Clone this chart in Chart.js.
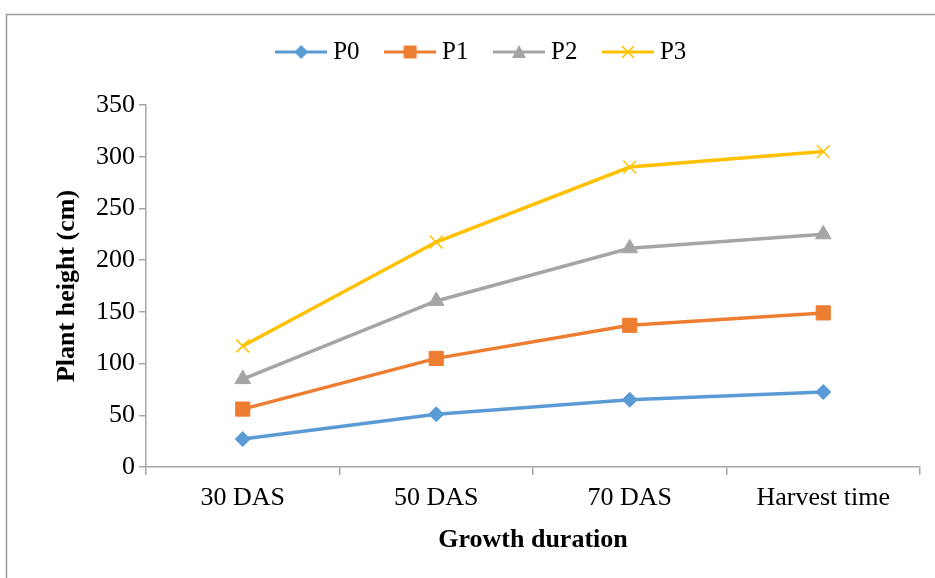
<!DOCTYPE html>
<html>
<head>
<meta charset="utf-8">
<script src="https://cdn.jsdelivr.net/npm/chart.js@4.4.0/dist/chart.umd.min.js"></script>
<style>
html,body{margin:0;padding:0;background:#fff;}
#wrap{position:relative;width:935px;height:578px;}
</style>
</head>
<body>
<div id="wrap"><canvas id="c" width="935" height="578"></canvas></div>
<script>
const categories = ['30 DAS', '50 DAS', '70 DAS', 'Harvest time'];
const seriesNames = ['P0', 'P1', 'P2', 'P3'];
const p0 = [27, 51, 65, 72.5];
const p1 = [56, 105, 137, 149];
const p2 = [85, 160.5, 211.5, 225];
const p3 = [117, 217.5, 290, 305];
const yTicks = [0, 50, 100, 150, 200, 250, 300, 350];

const colors = ['#5B9BD5', '#ED7D31', '#A5A5A5', '#FFC000'];
const styles = ['rectRot', 'rect', 'triangle', 'crossRot'];
const radii = [7.5, 10, 9, 9];
const serif = "'Liberation Serif', 'Times New Roman', serif";

function legendIcon(i) {
  const cv = document.createElement('canvas');
  cv.width = 52; cv.height = 22;
  const g = cv.getContext('2d');
  g.strokeStyle = colors[i]; g.lineWidth = 3;
  g.beginPath(); g.moveTo(0, 11); g.lineTo(52, 11); g.stroke();
  g.fillStyle = colors[i];
  const cx = 26, cy = 11;
  if (i === 0) {
    g.beginPath(); g.moveTo(cx, cy - 7); g.lineTo(cx + 7, cy); g.lineTo(cx, cy + 7); g.lineTo(cx - 7, cy); g.closePath(); g.fill();
  } else if (i === 1) {
    g.fillRect(cx - 6.5, cy - 6.5, 13, 13);
  } else if (i === 2) {
    g.beginPath(); g.moveTo(cx, cy - 7); g.lineTo(cx + 7, cy + 6); g.lineTo(cx - 7, cy + 6); g.closePath(); g.fill();
  } else {
    g.lineWidth = 1.5;
    g.beginPath(); g.moveTo(cx - 6, cy - 6); g.lineTo(cx + 6, cy + 6); g.moveTo(cx + 6, cy - 6); g.lineTo(cx - 6, cy + 6); g.stroke();
  }
  return cv;
}
const icons = [0, 1, 2, 3].map(legendIcon);

const frame = {
  id: 'frame',
  beforeDraw(chart) {
    const g = chart.ctx;
    g.save();
    g.strokeStyle = '#9a9a9a';
    g.lineWidth = 1.5;
    g.beginPath();
    g.moveTo(6.5, 578); g.lineTo(6.5, 14.5); g.lineTo(935, 14.5);
    g.stroke();
    g.restore();
  }
};

const legendFit = {
  id: 'legendFit',
  beforeInit(chart) {
    const orig = chart.legend.fit;
    chart.legend.fit = function () {
      orig.call(this);
      this.height = 96.5;
    };
  }
};

const datasets = [p0, p1, p2, p3].map((d, i) => ({
  label: seriesNames[i],
  data: d,
  borderColor: colors[i],
  backgroundColor: colors[i],
  borderWidth: 3.5,
  tension: 0,
  pointStyle: styles[i],
  pointRadius: radii[i],
  pointHoverRadius: radii[i],
  pointBackgroundColor: colors[i],
  pointBorderColor: colors[i],
  pointBorderWidth: i === 3 ? 1.5 : 1
}));

new Chart(document.getElementById('c'), {
  type: 'line',
  data: { labels: categories, datasets },
  plugins: [frame, legendFit],
  options: {
    responsive: false,
    animation: false,
    events: [],
    layout: { padding: { top: 8.5, left: 48, right: 15, bottom: 0 } },
    plugins: {
      tooltip: { enabled: false },
      legend: {
        position: 'top',
        labels: {
          usePointStyle: true,
          pointStyleWidth: 39,
          padding: 31,
          color: '#000',
          font: { family: serif, size: 25 },
          generateLabels(chart) {
            return chart.data.datasets.map((ds, i) => ({
              text: ds.label,
              pointStyle: icons[i],
              fillStyle: colors[i],
              strokeStyle: colors[i],
              lineWidth: 0,
              hidden: false,
              datasetIndex: i,
              fontColor: '#000'
            }));
          }
        }
      }
    },
    scales: {
      x: {
        type: 'category',
        offset: true,
        afterFit(scale) { scale.height = 111; },
        grid: { offset: true, drawOnChartArea: false, drawTicks: true, tickLength: 8, color: '#a6a6a6', lineWidth: 1.5 },
        border: { color: '#a6a6a6', width: 1.5 },
        ticks: { color: '#000', padding: 8, maxRotation: 0, font: { family: serif, size: 26 } },
        title: {
          display: true, text: 'Growth duration', color: '#000',
          font: { family: serif, size: 26, weight: 'bold' },
          padding: { top: 0, bottom: 22 }
        }
      },
      y: {
        min: 0, max: 350,
        afterFit(scale) { scale.width = 98; },
        afterBuildTicks(scale) { scale.ticks = yTicks.map(v => ({ value: v })); },
        grid: { drawOnChartArea: false, drawTicks: true, tickLength: 7, color: '#a6a6a6', lineWidth: 1.5 },
        border: { color: '#a6a6a6', width: 1.5 },
        ticks: { color: '#000', padding: 4, font: { family: serif, size: 26 } },
        title: {
          display: true, text: 'Plant height (cm)', color: '#000',
          font: { family: serif, size: 26, weight: 'bold' },
          padding: { top: 4, bottom: 0 }
        }
      }
    }
  }
});
</script>
</body>
</html>
